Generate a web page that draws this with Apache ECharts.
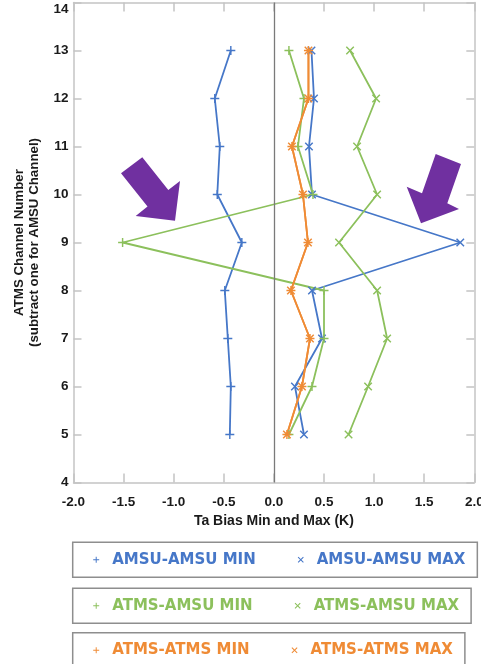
<!DOCTYPE html>
<html>
<head>
<meta charset="utf-8">
<script src="https://cdn.jsdelivr.net/npm/echarts@6/dist/echarts.min.js"></script>
<style>
html,body{margin:0;padding:0;background:#fff;}
#chart{width:481px;height:664px;}
</style>
</head>
<body>
<div id="chart"></div>
<script>
// ---- data ----
const channels = [5, 6, 7, 8, 9, 10, 11, 12, 13];
const amsuAmsuMin = [-0.44, -0.43, -0.46, -0.49, -0.32, -0.565, -0.54, -0.59, -0.43];
const amsuAmsuMax = [0.30, 0.21, 0.48, 0.38, 1.86, 0.38, 0.35, 0.40, 0.375];
const atmsAmsuMin = [0.15, 0.38, 0.50, 0.50, -1.51, 0.39, 0.24, 0.30, 0.15];
const atmsAmsuMax = [0.745, 0.94, 1.13, 1.03, 0.65, 1.03, 0.83, 1.02, 0.76];
const atmsAtmsMin = [0.13, 0.28, 0.36, 0.17, 0.34, 0.29, 0.18, 0.345, 0.345];
const atmsAtmsMax = [0.13, 0.28, 0.36, 0.17, 0.34, 0.29, 0.18, 0.345, 0.345];
const xTicks = [-2.0, -1.5, -1.0, -0.5, 0.0, 0.5, 1.0, 1.5, 2.0];
const yTicks = [4, 5, 6, 7, 8, 9, 10, 11, 12, 13, 14];
const seriesNames = ['AMSU-AMSU MIN', 'AMSU-AMSU MAX', 'ATMS-AMSU MIN', 'ATMS-AMSU MAX', 'ATMS-ATMS MIN', 'ATMS-ATMS MAX'];

// ---- styles ----
const BLUE = '#4677c8', GREEN = '#8cc05c', ORANGE = '#ef8b35';
const PLUS = 'path://M4.2,0 H5.8 V4.2 H10 V5.8 H5.8 V10 H4.2 V5.8 H0 V4.2 H4.2 Z';
const CROSS = 'path://M0,1.2 L1.2,0 L5,3.8 L8.8,0 L10,1.2 L6.2,5 L10,8.8 L8.8,10 L5,6.2 L1.2,10 L0,8.8 L3.8,5 Z';
const AX = '#c4c4c4';
const LABEL = {fontFamily: 'Liberation Sans, Arial, sans-serif', fontWeight: 'bold', fontSize: 13.5, color: '#1a1a1a'};

function mk(name, vals, color, symbol, size, extra) {
  return Object.assign({
    name: name,
    type: 'line',
    data: channels.map((c, i) => [vals[i], c]),
    symbol: symbol,
    symbolSize: size,
    showSymbol: true,
    lineStyle: {color: color, width: 1.8},
    itemStyle: {color: color},
    emphasis: {disabled: true},
    animation: false
  }, extra || {});
}

const series = [
  mk(seriesNames[0], amsuAmsuMin, BLUE, PLUS, 9, {
    markLine: {
      silent: true, symbol: 'none', animation: false,
      label: {show: false},
      lineStyle: {color: '#7a7a7a', width: 1.3, type: 'solid'},
      data: [{xAxis: 0}]
    }
  }),
  mk(seriesNames[1], amsuAmsuMax, BLUE, CROSS, 8.5),
  mk(seriesNames[2], atmsAmsuMin, GREEN, PLUS, 9),
  mk(seriesNames[3], atmsAmsuMax, GREEN, CROSS, 8.5),
  mk(seriesNames[4], atmsAtmsMin, ORANGE, PLUS, 9),
  mk(seriesNames[5], atmsAtmsMax, ORANGE, CROSS, 8.5)
];

function legend(top, names, color) {
  return {
    left: 72.7, top: top, orient: 'horizontal',
    padding: [10, 12, 10, 20.5],
    itemGap: 42, itemWidth: 22, itemHeight: 6,
    borderColor: '#8e8e8e', borderWidth: 1.5,
    symbolKeepAspect: true,
    selectedMode: false,
    textStyle: {fontFamily: 'DejaVu Sans', fontWeight: 'bold', fontSize: 15, color: color},
    data: [{name: names[0], icon: PLUS}, {name: names[1], icon: CROSS}]
  };
}

const chart = echarts.init(document.getElementById('chart'), null, {renderer: 'canvas'});
chart.setOption({
  animation: false,
  backgroundColor: '#fff',
  grid: {left: 73.5, right: 6.7, top: 2.5, bottom: 181.5, containLabel: false, outerBoundsMode: 'none'},
  xAxis: [{
    type: 'value', min: xTicks[0], max: xTicks[xTicks.length - 1], interval: 0.5, position: 'bottom',
    axisLine: {show: true, onZero: false, lineStyle: {color: AX, width: 1.5}},
    axisTick: {show: true, inside: true, length: 9, lineStyle: {color: AX, width: 1.5}},
    axisLabel: Object.assign({margin: 12.5, formatter: v => v.toFixed(1)}, LABEL),
    splitLine: {show: false},
    name: 'Ta Bias Min and Max (K)', nameLocation: 'middle', nameGap: 32,
    nameTextStyle: Object.assign({}, LABEL, {fontSize: 14})
  }, {
    type: 'value', min: xTicks[0], max: xTicks[xTicks.length - 1], interval: 0.5, position: 'top',
    axisLine: {show: true, onZero: false, lineStyle: {color: AX, width: 1.5}},
    axisTick: {show: true, inside: true, length: 9, lineStyle: {color: AX, width: 1.5}},
    axisLabel: {show: false}, splitLine: {show: false}
  }],
  yAxis: [{
    type: 'value', min: yTicks[0], max: yTicks[yTicks.length - 1], interval: 1, position: 'left',
    axisLine: {show: true, onZero: false, lineStyle: {color: AX, width: 1.5}},
    axisTick: {show: true, inside: true, length: 8, lineStyle: {color: AX, width: 1.5}},
    axisLabel: Object.assign({margin: 5, verticalAlignMaxLabel: 'top'}, LABEL),
    splitLine: {show: false},
    name: 'ATMS Channel Number\n(subtract one for AMSU Channel)', nameLocation: 'middle', nameGap: 32, nameRotate: 90,
    nameTextStyle: Object.assign({}, LABEL, {fontSize: 13.3, lineHeight: 15})
  }, {
    type: 'value', min: yTicks[0], max: yTicks[yTicks.length - 1], interval: 1, position: 'right',
    axisLine: {show: true, onZero: false, lineStyle: {color: AX, width: 1.5}},
    axisTick: {show: true, inside: true, length: 8, lineStyle: {color: AX, width: 1.5}},
    axisLabel: {show: false}, splitLine: {show: false}
  }],
  legend: [
    legend(542.3, [seriesNames[0], seriesNames[1]], BLUE),
    legend(588.3, [seriesNames[2], seriesNames[3]], GREEN),
    legend(632.7, [seriesNames[4], seriesNames[5]], ORANGE)
  ],
  series: series,
  graphic: [
    {type: 'polygon', z: 100, silent: true,
     shape: {points: [[121, 173.3], [142.3, 157.3], [168.3, 190], [180, 181], [175, 220.7], [135.7, 216], [147.5, 206.6]]},
     style: {fill: '#7030a0'}},
    {type: 'polygon', z: 100, silent: true,
     shape: {points: [[435.7, 154], [461, 164], [447.3, 203.3], [459, 209], [421, 223.3], [406.7, 186.7], [422, 193.2]]},
     style: {fill: '#7030a0'}}
  ]
});
</script>
</body>
</html>
